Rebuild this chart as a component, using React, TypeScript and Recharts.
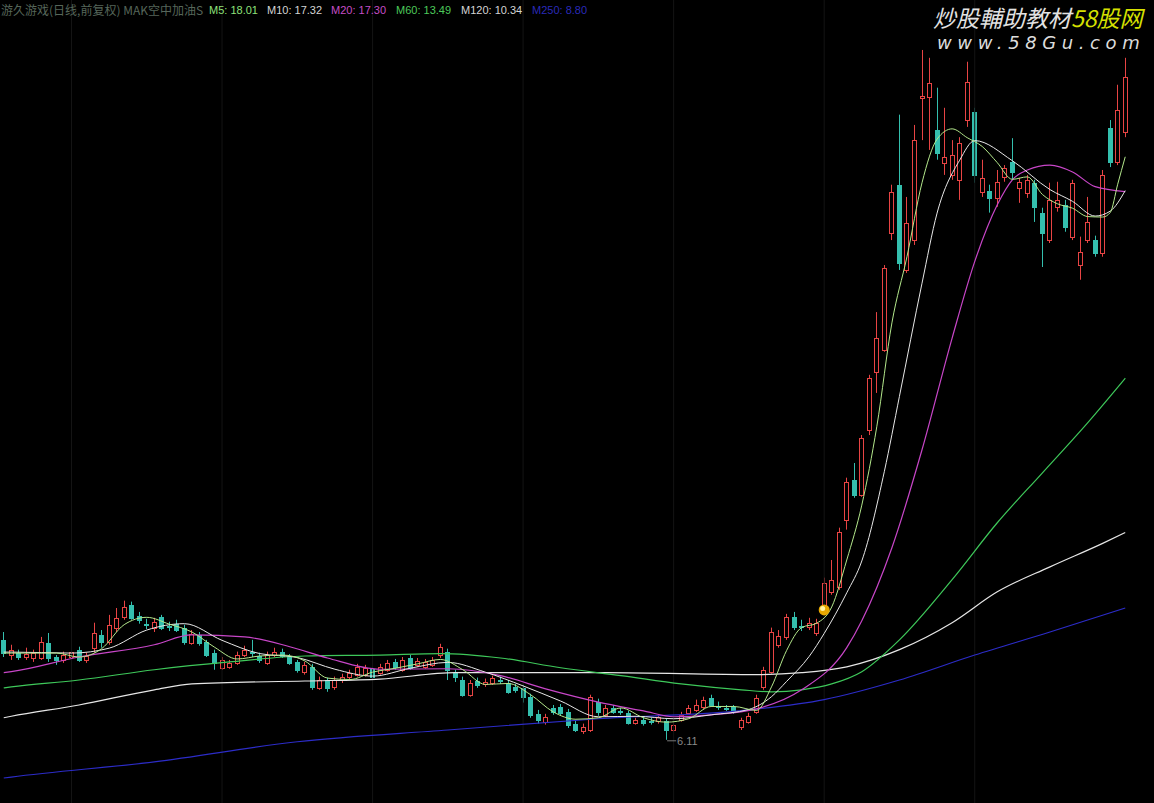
import { ComposedChart, Bar, Line, XAxis, YAxis, ReferenceLine, ReferenceDot } from "recharts";

// daily candles, oldest first (price)
const opens = [
  8.15, 7.84, 7.89, 7.8, 7.78, 7.78, 8.09, 7.8, 7.74, 7.8,
  7.95, 7.74, 7.99, 8.25, 8.11, 8.4, 8.62, 8.87, 8.64, 8.48,
  8.4, 8.62, 8.44, 8.48, 8.4, 8.09, 8.25, 8.11, 7.89, 7.58,
  7.6, 7.68, 7.84, 7.91, 7.82, 7.68, 7.84, 7.91, 7.82, 7.7,
  7.5, 7.6, 7.17, 7.33, 7.19, 7.33, 7.4, 7.44, 7.44, 7.56,
  7.48, 7.54, 7.7, 7.54, 7.78, 7.64, 7.6, 7.64, 7.84, 7.91,
  7.48, 7.33, 7.03, 7.31, 7.25, 7.27, 7.33, 7.27, 7.19, 7.17,
  6.99, 6.64, 6.48, 6.76, 6.78, 6.68, 6.44, 6.29, 6.31, 6.89,
  6.62, 6.76, 6.7, 6.66, 6.46, 6.52, 6.5, 6.5, 6.5, 6.31,
  6.52, 6.66, 6.72, 6.78, 6.97, 6.8, 6.76, 6.78, 6.38, 6.48,
  6.68, 7.19, 7.5, 8.05, 8.21, 8.62, 8.44, 8.42, 8.29, 8.72,
  9.13, 9.23, 10.6, 11.42, 11.11, 12.44, 13.62, 14.07, 16.46, 17.44,
  15.7, 16.31, 19.21, 19.23, 18.56, 17.88, 17.64, 17.54, 18.76, 18.93,
  17.29, 17.31, 17.17, 17.6, 17.9, 17.37, 17.27, 17.48, 16.87, 16.31,
  16.99, 17.03, 16.38, 15.8, 16.31, 16.31, 16.05, 18.6, 17.9, 18.52,
];
const highs = [
  8.31, 8.05, 7.95, 7.99, 7.95, 8.21, 8.29, 7.84, 7.91, 7.99,
  8.01, 7.89, 8.5, 8.35, 8.66, 8.8, 8.95, 8.93, 8.72, 8.58,
  8.6, 8.66, 8.52, 8.56, 8.46, 8.35, 8.31, 8.15, 7.95, 7.8,
  7.74, 7.91, 8.03, 8.15, 7.89, 7.91, 7.99, 7.97, 7.86, 7.74,
  7.7, 7.66, 7.4, 7.38, 7.4, 7.46, 7.54, 7.66, 7.64, 7.6,
  7.66, 7.74, 7.76, 7.8, 7.84, 7.78, 7.76, 7.8, 8.07, 7.97,
  7.54, 7.4, 7.33, 7.38, 7.36, 7.42, 7.4, 7.33, 7.25, 7.23,
  7.05, 6.72, 6.64, 6.82, 6.84, 6.74, 6.52, 6.44, 7.03, 6.95,
  6.82, 6.82, 6.76, 6.7, 6.56, 6.58, 6.56, 6.62, 6.54, 6.48,
  6.68, 6.82, 6.93, 6.99, 7.03, 6.89, 6.82, 6.82, 6.56, 6.66,
  7.03, 7.6, 8.4, 8.35, 8.68, 8.72, 8.56, 8.6, 8.58, 9.42,
  9.78, 10.44, 11.46, 11.76, 12.33, 13.56, 14.84, 15.8, 17.44, 18.87,
  17.19, 18.66, 20.19, 20.03, 19.42, 19.01, 18.35, 18.41, 19.95, 19.01,
  17.95, 17.44, 17.74, 17.84, 18.39, 17.58, 17.64, 17.54, 16.97, 17.48,
  17.5, 17.13, 17.54, 16.38, 17.19, 16.4, 17.74, 18.76, 19.48, 20.03,
];
const lows = [
  7.8, 7.74, 7.74, 7.74, 7.7, 7.74, 7.7, 7.64, 7.68, 7.74,
  7.7, 7.68, 7.89, 7.99, 8.05, 8.31, 8.56, 8.56, 8.48, 8.37,
  8.31, 8.35, 8.33, 8.31, 8.05, 8.05, 8.03, 7.8, 7.54, 7.54,
  7.56, 7.64, 7.8, 7.8, 7.68, 7.64, 7.8, 7.78, 7.64, 7.48,
  7.44, 7.13, 7.13, 7.09, 7.13, 7.27, 7.33, 7.4, 7.4, 7.36,
  7.44, 7.5, 7.54, 7.5, 7.54, 7.6, 7.56, 7.6, 7.78, 7.33,
  7.29, 6.99, 6.99, 7.17, 7.19, 7.23, 7.25, 7.05, 7.07, 6.87,
  6.56, 6.44, 6.42, 6.62, 6.6, 6.35, 6.27, 6.23, 6.27, 6.6,
  6.58, 6.64, 6.62, 6.42, 6.42, 6.4, 6.42, 6.44, 6.11, 6.27,
  6.48, 6.62, 6.68, 6.74, 6.78, 6.72, 6.7, 6.64, 6.31, 6.44,
  6.64, 7.13, 7.46, 7.99, 8.15, 8.35, 8.33, 8.35, 8.23, 8.66,
  9.07, 9.17, 10.4, 11.05, 11.07, 12.33, 13.19, 14.03, 16.31, 15.7,
  15.64, 16.21, 18.35, 18.15, 17.95, 17.64, 17.54, 17.13, 18.62, 17.48,
  17.19, 16.87, 16.99, 17.5, 17.54, 17.07, 17.17, 16.68, 15.76, 16.25,
  16.89, 16.48, 16.31, 15.5, 16.25, 15.97, 15.97, 17.8, 17.84, 18.41,
];
const closes = [
  7.89, 7.95, 7.8, 7.86, 7.89, 8.11, 7.78, 7.74, 7.84, 7.91,
  7.74, 7.82, 8.29, 8.11, 8.46, 8.6, 8.82, 8.6, 8.56, 8.46,
  8.52, 8.4, 8.42, 8.35, 8.11, 8.27, 8.09, 7.84, 7.68, 7.74,
  7.68, 7.84, 7.95, 7.89, 7.74, 7.84, 7.91, 7.82, 7.68, 7.54,
  7.64, 7.19, 7.33, 7.17, 7.33, 7.4, 7.48, 7.6, 7.58, 7.4,
  7.6, 7.68, 7.6, 7.74, 7.58, 7.72, 7.7, 7.74, 8.01, 7.54,
  7.4, 7.03, 7.27, 7.23, 7.29, 7.38, 7.31, 7.09, 7.13, 6.99,
  6.62, 6.52, 6.58, 6.68, 6.66, 6.42, 6.31, 6.38, 6.99, 6.68,
  6.76, 6.68, 6.68, 6.46, 6.52, 6.46, 6.48, 6.58, 6.31, 6.42,
  6.62, 6.76, 6.82, 6.93, 6.82, 6.78, 6.74, 6.7, 6.52, 6.6,
  6.97, 7.54, 8.31, 8.23, 8.62, 8.42, 8.42, 8.5, 8.5, 9.31,
  9.38, 10.35, 11.38, 11.11, 12.27, 13.5, 14.31, 15.74, 17.29, 15.84,
  16.66, 18.35, 19.25, 19.52, 18.09, 18.01, 18.05, 18.29, 19.54, 17.64,
  17.58, 17.17, 17.5, 17.78, 17.7, 17.5, 17.54, 16.99, 16.46, 17.13,
  17.13, 16.58, 17.48, 16.07, 16.68, 16.05, 17.64, 17.9, 18.97, 19.64,
];

// moving averages: [candle index, value]
const m5Pts: [number, number][] = [
  [0, 7.88], [1, 7.88], [4, 7.88], [7, 7.88], [10, 7.8], [13, 7.97], [16, 8.46], [19, 8.61], [22, 8.47],
  [25, 8.31], [28, 8.0], [31, 7.76], [34, 7.82], [37, 7.84], [40, 7.72], [43, 7.37], [46, 7.34],
  [49, 7.49], [52, 7.57], [55, 7.66], [58, 7.75], [61, 7.54], [64, 7.24], [67, 7.26], [70, 7.03],
  [73, 6.68], [76, 6.53], [79, 6.56], [82, 6.76], [85, 6.56], [88, 6.47], [91, 6.54], [94, 6.79],
  [97, 6.79], [100, 6.71], [102, 7.19], [104, 7.93], [106, 8.4], [108, 8.49], [110, 8.82],
  [112, 9.78], [114, 10.9], [116, 12.51], [118, 14.62], [120, 15.97], [122, 17.48], [124, 18.37],
  [126, 18.58], [128, 18.4], [130, 18.22], [132, 17.89], [134, 17.55], [136, 17.6], [138, 17.24],
  [140, 17.05], [142, 16.96], [144, 16.79], [146, 16.78], [147, 16.87], [148, 17.45], [149, 18.01],
];
const m10Pts: [number, number][] = [
  [0, 7.9], [1, 7.9], [9, 7.88], [14, 7.98], [19, 8.35], [24, 8.48], [29, 8.14], [34, 7.87], [39, 7.79],
  [44, 7.55], [49, 7.41], [54, 7.57], [59, 7.69], [64, 7.49], [69, 7.21], [74, 6.9], [79, 6.58],
  [84, 6.59], [89, 6.54], [94, 6.62], [99, 6.73], [102, 6.99], [104, 7.3], [107, 7.81], [109, 8.28],
  [112, 9.11], [114, 9.76], [117, 11.59], [119, 13.12], [122, 15.43], [124, 16.86], [127, 17.94],
  [129, 18.34], [134, 17.93], [139, 17.34], [142, 17.1], [145, 16.8], [147, 16.9], [149, 17.32],
];
const m20Pts: [number, number][] = [
  [0, 7.48], [1, 7.5], [10, 7.8], [20, 8.05], [25, 8.25], [32, 8.21], [38, 8.01], [43, 7.78], [50, 7.55],
  [59, 7.56], [66, 7.42], [72, 7.15], [79, 6.88], [85, 6.7], [89, 6.58], [94, 6.62], [100, 6.74],
  [106, 7.13], [112, 7.99], [114, 8.54], [118, 10.03], [122, 12.03], [126, 14.31], [129, 15.87],
  [132, 17.03], [134, 17.54], [136, 17.74], [139, 17.84], [142, 17.7], [145, 17.4], [149, 17.3],
];
const m60Pts: [number, number][] = [
  [0, 7.17], [1, 7.19], [10, 7.33], [20, 7.54], [30, 7.7], [40, 7.82], [50, 7.84], [58, 7.87], [66, 7.78],
  [74, 7.58], [82, 7.42], [90, 7.25], [98, 7.13], [102, 7.09], [106, 7.13], [110, 7.25],
  [114, 7.5], [119, 8.15], [126, 9.38], [132, 10.54], [138, 11.56], [144, 12.58], [149, 13.49],
];
const m120Pts: [number, number][] = [
  [0, 6.56], [1, 6.59], [10, 6.82], [20, 7.13], [25, 7.25], [40, 7.31], [50, 7.35], [60, 7.48], [80, 7.48],
  [100, 7.44], [106, 7.48], [112, 7.6], [119, 7.95], [126, 8.5], [132, 9.13], [139, 9.64],
  [146, 10.12], [149, 10.34],
];
const m250Pts: [number, number][] = [
  [0, 5.33], [1, 5.35], [20, 5.66], [39, 6.07], [59, 6.31], [79, 6.54], [99, 6.72], [109, 6.93],
  [119, 7.33], [129, 7.84], [139, 8.31], [149, 8.8],
];

const headerItems = [
  { text: "M5: 18.01", color: "#8ee07a", left: 209 },
  { text: "M10: 17.32", color: "#d4d4d4", left: 267 },
  { text: "M20: 17.30", color: "#c64ec6", left: 331 },
  { text: "M60: 13.49", color: "#4cc85a", left: 396 },
  { text: "M120: 10.34", color: "#d4d4d4", left: 461 },
  { text: "M250: 8.80", color: "#2a2ab8", left: 532 },
];
const monthLines = [9, 29, 49, 69, 89, 109, 129];
const lowMark = { idx: 88, price: 6.11 };
const signal = { idx: 109, price: 8.76 };

const RED = "#e84444";
const TEAL = "#34bfae";

const at = (pts: [number, number][], i: number) => {
  const p = pts.find((q) => q[0] === i);
  return p ? p[1] : null;
};

const rows = closes.map((c, i) => ({
  idx: i,
  open: opens[i],
  high: highs[i],
  low: lows[i],
  close: c,
  m5: at(m5Pts, i),
  m10: at(m10Pts, i),
  m20: at(m20Pts, i),
  m60: at(m60Pts, i),
  m120: at(m120Pts, i),
  m250: at(m250Pts, i),
}));

function Candle(props: any) {
  const { x, y, width, height, payload } = props;
  if (!payload) return null;
  const { open, close, high, low } = payload;
  const top = Math.min(y, y + height);
  const h = Math.abs(height);
  const range = high - low || 1;
  const py = (v: number) => top + ((high - v) / range) * h;
  const cx = Math.floor(x + width / 2) + 0.5;
  const up = close >= open;
  const color = up ? RED : TEAL;
  const bTop = Math.round(py(Math.max(open, close))) + 0.5;
  const bBot = Math.round(py(Math.min(open, close))) + 0.5;
  return (
    <g>
      <line x1={cx} x2={cx} y1={top} y2={top + h} stroke={color} strokeWidth={1} />
      <rect
        x={cx - 2}
        y={bTop}
        width={4}
        height={Math.max(bBot - bTop, 0.5)}
        fill={up ? "#000" : color}
        stroke={color}
        strokeWidth={1}
      />
    </g>
  );
}

const lineProps = { type: "monotone" as const, dot: false, activeDot: false, connectNulls: true, isAnimationActive: false };

export default function App() {
  return (
    <div style={{ position: "relative", width: 1154, height: 803, background: "#000", overflow: "hidden" }}>
      <style>{"body{margin:0;background:#000}"}</style>
      <ComposedChart width={1154} height={803} data={rows} margin={{ top: 0, right: 25, bottom: 0, left: 0 }}>
        <XAxis dataKey="idx" hide />
        <YAxis hide domain={[4.82, 21.21]} allowDataOverflow />
        {monthLines.map((m) => (
          <ReferenceLine key={m} x={m} stroke="#141414" />
        ))}
        <Line dataKey="m250" stroke="#2c2cc8" strokeWidth={1.2} {...lineProps} />
        <Line dataKey="m120" stroke="#e6e6e6" strokeWidth={1.2} {...lineProps} />
        <Line dataKey="m60" stroke="#3ec85a" strokeWidth={1.2} {...lineProps} />
        <Bar dataKey={(d: any) => [d.low, d.high]} shape={<Candle />} isAnimationActive={false} />
        <Line dataKey="m20" stroke="#c846c8" strokeWidth={1.2} {...lineProps} />
        <Line dataKey="m10" stroke="#e8e8e8" strokeWidth={1} {...lineProps} />
        <Line dataKey="m5" stroke="#b4e88c" strokeWidth={1} {...lineProps} />
        <ReferenceDot
          x={signal.idx}
          y={signal.price}
          r={6}
          shape={(p: any) => (
            <g>
              <circle cx={p.cx} cy={p.cy} r={5.5} fill="#e8a800" />
              <circle cx={p.cx - 1.5} cy={p.cy - 1.5} r={2.5} fill="#fff3a0" />
            </g>
          )}
        />
        <ReferenceDot
          x={lowMark.idx}
          y={lowMark.price}
          r={0}
          shape={(p: any) => (
            <g>
              <line x1={p.cx + 1} x2={p.cx + 10} y1={p.cy + 1} y2={p.cy + 1} stroke="#7a7a7a" />
              <text x={p.cx + 11} y={p.cy + 5} fill="#8a8a8a" fontSize={11} fontFamily="Liberation Sans, Arial, sans-serif">
                {lowMark.price.toFixed(2)}
              </text>
            </g>
          )}
        />
      </ComposedChart>

      <div style={{ position: "absolute", left: 1, top: 2, fontSize: 12, lineHeight: "16px", color: "#56665a", fontFamily: "'Noto Sans CJK SC', sans-serif", whiteSpace: "nowrap" }}>
        游久游戏(日线,前复权) MAK空中加油S
      </div>
      {headerItems.map((h) => (
        <div
          key={h.text}
          style={{ position: "absolute", left: h.left, top: 3, fontSize: 11, lineHeight: "14px", color: h.color, fontFamily: "'Liberation Sans', Arial, sans-serif", whiteSpace: "nowrap" }}
        >
          {h.text}
        </div>
      ))}

      <div style={{ position: "absolute", left: 933, top: 3, fontSize: 23, lineHeight: "28px", fontStyle: "italic", fontFamily: "'Noto Sans CJK SC', sans-serif", whiteSpace: "nowrap", color: "#e2e2e2" }}>
        炒股輔助教材<span style={{ color: "#d6e000" }}>58股网</span>
      </div>
      <div style={{ position: "absolute", left: 937, top: 31, fontSize: 18, lineHeight: "24px", fontStyle: "italic", letterSpacing: 5.6, fontFamily: "'DejaVu Sans', sans-serif", whiteSpace: "nowrap", color: "#dcdcdc" }}>
        www.58Gu.com
      </div>
    </div>
  );
}
